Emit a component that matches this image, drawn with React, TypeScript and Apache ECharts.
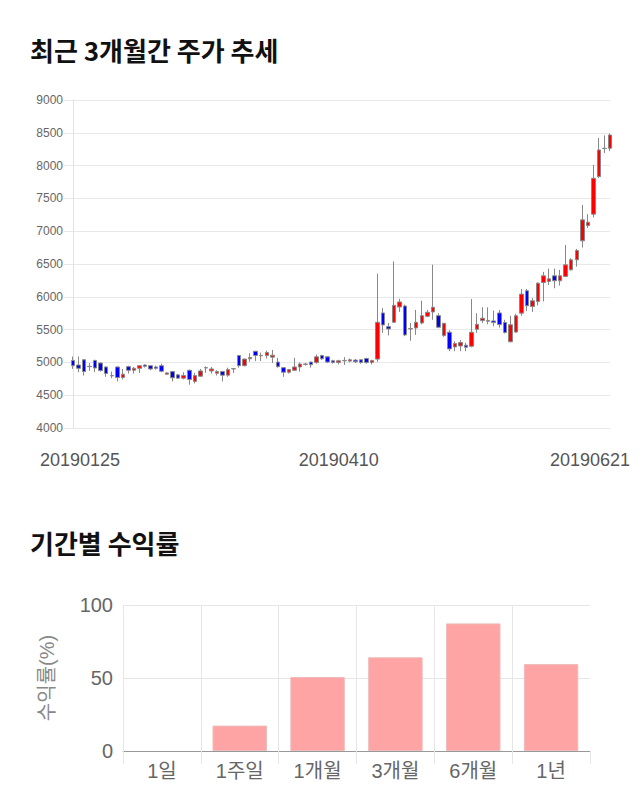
import React, { useEffect, useRef } from 'react';
import * as echarts from 'echarts';

const DATES = [
  '20190125', '20190128', '20190129', '20190130', '20190131',
  '20190207', '20190208', '20190211', '20190212', '20190213', '20190214', '20190215',
  '20190218', '20190219', '20190220', '20190221', '20190222', '20190225', '20190226', '20190227', '20190228',
  '20190304', '20190305', '20190306', '20190307', '20190308', '20190311', '20190312', '20190313', '20190314', '20190315',
  '20190318', '20190319', '20190320', '20190321', '20190322', '20190325', '20190326', '20190327', '20190328', '20190329',
  '20190401', '20190402', '20190403', '20190404', '20190405', '20190408', '20190409', '20190410', '20190411', '20190412',
  '20190415', '20190416', '20190417', '20190418', '20190419', '20190422', '20190423', '20190424', '20190425', '20190426',
  '20190429', '20190430', '20190502', '20190503', '20190507', '20190508', '20190509', '20190510',
  '20190513', '20190514', '20190515', '20190516', '20190517', '20190520', '20190521', '20190522', '20190523', '20190524',
  '20190527', '20190528', '20190529', '20190530', '20190531',
  '20190603', '20190604', '20190605', '20190607', '20190610', '20190611', '20190612', '20190613', '20190614',
  '20190617', '20190618', '20190619', '20190620', '20190621',
];

const OPEN = [
  5030, 4960, 5040, 4940, 5030, 4990, 4930, 4800, 4930, 4770,
  4935, 4880, 4910, 4960, 4950, 4930, 4950, 4820, 4860, 4810,
  4760, 4880, 4710, 4790, 4915, 4870, 4835, 4860, 4805, 4900,
  5105, 4950, 5055, 5170, 5105, 5105, 5080, 5005, 4920, 4850,
  4880, 4930, 4970, 5005, 5000, 5105, 5085, 5025, 5000, 5025,
  5020, 5035, 5040, 5060, 5000, 5050, 5754, 5546, 5612, 5845,
  5860, 5510, 5525, 5601, 5703, 5769, 5713, 5409, 5460, 5236,
  5251, 5262, 5246, 5505, 5637, 5627, 5632, 5754, 5610, 5315,
  5462, 5751, 6092, 5853, 5929, 6218, 6234, 6320, 6244, 6310,
  6411, 6563, 6853, 7086, 7259, 7832, 8264, 8264,
];
const CLOSE = [
  4950, 4910, 4860, 4935, 4915, 4875, 4830, 4795, 4770, 4820,
  4880, 4910, 4950, 4940, 4900, 4910, 4865, 4840, 4765, 4760,
  4800, 4740, 4800, 4870, 4920, 4900, 4860, 4805, 4890, 4905,
  4950, 5050, 5075, 5105, 5100, 5150, 5110, 4935, 4850, 4890,
  4930, 4975, 4975, 4965, 5085, 5055, 5005, 5000, 5025, 5030,
  5040, 5010, 5000, 5000, 5030, 5612, 5571, 5510, 5870, 5921,
  5419, 5515, 5612, 5713, 5764, 5840, 5536, 5596, 5206, 5287,
  5302, 5231, 5460, 5581, 5673, 5637, 5607, 5576, 5457, 5574,
  5711, 6041, 5863, 5939, 6208, 6320, 6274, 6244, 6320, 6487,
  6563, 6706, 7173, 7137, 7807, 8239, 8260, 8467,
];
const LOW = [
  4900, 4850, 4800, 4870, 4850, 4860, 4780, 4760, 4710, 4740,
  4830, 4830, 4840, 4920, 4880, 4890, 4850, 4810, 4710, 4750,
  4740, 4660, 4680, 4780, 4840, 4830, 4800, 4710, 4780, 4840,
  4920, 4940, 5010, 5020, 5020, 5060, 4990, 4920, 4780, 4830,
  4870, 4860, 4950, 4920, 4980, 5040, 4990, 4980, 4970, 4960,
  5000, 4990, 4980, 4980, 4970, 5010, 5450, 5410, 5600, 5770,
  5400, 5330, 5420, 5580, 5690, 5650, 5520, 5390, 5170, 5170,
  5170, 5170, 5230, 5450, 5600, 5580, 5550, 5530, 5440, 5305,
  5450, 5710, 5780, 5770, 5870, 5930, 6180, 6130, 6170, 6300,
  6400, 6460, 6750, 7050, 7210, 7810, 8190, 8220,
];
const HIGH = [
  5090, 5090, 5050, 4990, 5040, 5000, 4940, 4860, 4940, 4900,
  4950, 4930, 4960, 4970, 4960, 4950, 4980, 4850, 4870, 4820,
  4850, 4890, 4840, 4900, 4940, 4930, 4880, 4870, 4920, 4915,
  5110, 5060, 5140, 5175, 5150, 5180, 5190, 5070, 4930, 4900,
  5070, 5000, 4990, 5010, 5120, 5115, 5090, 5040, 5040, 5080,
  5060, 5050, 5050, 5070, 5040, 6353, 5830, 5600, 6540, 5970,
  5880, 5600, 5800, 5940, 5800, 6490, 5750, 5600, 5490, 5320,
  5340, 5300, 5967, 5750, 5840, 5840, 5790, 5800, 5650, 5710,
  5740, 6120, 6120, 5980, 6220, 6380, 6430, 6430, 6410, 6790,
  6590, 6730, 7400, 7260, 8010, 8420, 8460, 8490,
];

const LABEL_DATES = ['20190125', '20190410', '20190621'];

const PERIODS = ['1일', '1주일', '1개월', '3개월', '6개월', '1년'];
const RETURNS = [0, 17.4, 50.7, 64.2, 87.4, 59.6];

const FONT = "'Liberation Sans', 'Noto Sans CJK KR', sans-serif";
const TITLE_FONT = "'Noto Sans CJK KR', sans-serif";

export default function App() {
  const ref = useRef<HTMLDivElement>(null);

  useEffect(() => {
    document.body.style.margin = '0';
    const chart = echarts.init(ref.current!, null, { renderer: 'svg' });
    const candles = DATES.map((_, i) => [OPEN[i], CLOSE[i], LOW[i], HIGH[i]]);
    const bars = RETURNS.map((v) =>
      v === 0 ? { value: v, itemStyle: { borderWidth: 0 } } : v
    );
    const xLabelStyle = { fontSize: 18, color: '#555', fontFamily: FONT };
    const splitColors = PERIODS.map(() => '#e6e6e6').concat(['rgba(0,0,0,0)']);

    chart.setOption({
      animation: false,
      textStyle: { fontFamily: FONT },
      title: [
        {
          text: '최근 3개월간 주가 추세',
          left: 30,
          top: 36,
          padding: 0,
          textStyle: { fontSize: 26, fontWeight: 'bold', color: '#111', fontFamily: TITLE_FONT },
        },
        {
          text: '기간별 수익률',
          left: 30,
          top: 529,
          padding: 0,
          textStyle: { fontSize: 26, fontWeight: 'bold', color: '#111', fontFamily: TITLE_FONT },
        },
      ],
      grid: [
        { left: 73, right: 30, top: 100, height: 328 },
        { left: 123, right: 50, top: 605, height: 146 },
      ],
      xAxis: [
        {
          type: 'category',
          gridIndex: 0,
          data: DATES,
          boundaryGap: false,
          axisLine: { show: false },
          axisTick: { show: false },
          splitLine: { show: false },
          axisLabel: {
            interval: (_i: number, v: string) => LABEL_DATES.includes(v),
            margin: 23,
            formatter: (v: string) =>
              v === LABEL_DATES[0] ? `{l|${v}}` : v === LABEL_DATES[2] ? `{r|${v}}` : `{m|${v}}`,
            rich: {
              l: { ...xLabelStyle, padding: [0, 0, 0, 14] },
              m: { ...xLabelStyle },
              r: { ...xLabelStyle, padding: [0, 40, 0, 0] },
            },
          },
        },
        {
          type: 'category',
          gridIndex: 1,
          data: PERIODS,
          axisLine: { show: true, lineStyle: { color: '#999' } },
          axisTick: {
            show: true,
            length: 13,
            lineStyle: { color: '#e6e6e6' },
          },
          splitLine: {
            show: true,
            lineStyle: { color: splitColors },
          },
          axisLabel: { fontSize: 20, color: '#666', margin: 10 },
        },
      ],
      yAxis: [
        {
          type: 'value',
          gridIndex: 0,
          min: 4000,
          max: 9000,
          interval: 500,
          axisLine: { show: true, lineStyle: { color: '#e2e2e2' } },
          axisTick: { show: true, length: 9, lineStyle: { color: '#e8e8e8' } },
          splitLine: { show: true, lineStyle: { color: '#e8e8e8' } },
          axisLabel: { fontSize: 12, color: '#666', margin: 10, formatter: (v: number) => String(v) },
        },
        {
          type: 'value',
          gridIndex: 1,
          min: 0,
          max: 100,
          interval: 50,
          name: '수익률(%)',
          nameLocation: 'middle',
          nameGap: 66,
          nameTextStyle: { fontSize: 20, color: '#888' },
          axisLine: { show: false },
          axisTick: { show: false },
          splitLine: { show: true, lineStyle: { color: '#e6e6e6' } },
          axisLabel: { fontSize: 20, color: '#666', margin: 10, formatter: (v: number) => String(v) },
        },
      ],
      series: [
        {
          type: 'candlestick',
          xAxisIndex: 0,
          yAxisIndex: 0,
          data: candles,
          barWidth: 4,
          itemStyle: {
            color: '#ff0000',
            color0: '#0000ff',
            borderColor: '#888',
            borderColor0: '#888',
            borderWidth: 1,
          },
        },
        {
          type: 'bar',
          xAxisIndex: 1,
          yAxisIndex: 1,
          data: bars,
          barWidth: '70%',
          itemStyle: { color: '#ffa4a4', borderColor: '#eebcbc', borderWidth: 1 },
        },
      ],
    });

    return () => chart.dispose();
  }, []);

  return <div ref={ref} style={{ width: 640, height: 810 }} />;
}
